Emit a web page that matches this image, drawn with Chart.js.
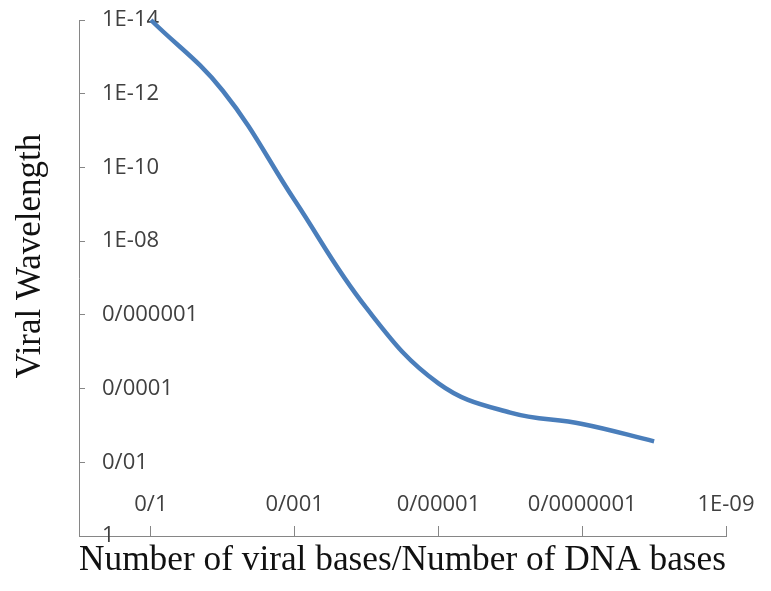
<!DOCTYPE html>
<html lang="en">
<head>
<meta charset="UTF-8">
<title>Viral Wavelength</title>
<script src="https://cdn.jsdelivr.net/npm/chart.js@4.4.0/dist/chart.umd.min.js"></script>
<style>
  body { margin: 0; background: #fff; }
</style>
</head>
<body>
<canvas id="viralChart" width="771" height="591"></canvas>
<script>
// ratio of viral bases to DNA bases (x) and wavelength (y)
const baseRatio = [1e-1, 1e-2, 1e-3, 1e-4, 1e-5, 1e-6, 1e-7, 1e-8];
const wavelength = [1e-14, 8.3e-13, 7.8e-10, 6.6e-7, 7.2e-5, 4.5e-4, 9.1e-4, 2.7e-3];

const xTickValues = [1e-1, 1e-3, 1e-5, 1e-7, 1e-9];
const xTickLabels = ['0/1', '0/001', '0/00001', '0/0000001', '1E-09'];
const yTickValues = [1e-14, 1e-12, 1e-10, 1e-8, 1e-6, 1e-4, 1e-2, 1];
const yTickLabels = ['1E-14', '1E-12', '1E-10', '1E-08', '0/000001', '0/0001', '0/01', '1'];

const axisGrey = '#868686';
const labelFont = { family: '"Open Sans"', size: 22 };

function labelFor(values, labels, value) {
    const i = values.findIndex(v => Math.abs(Math.log10(v) - Math.log10(value)) < 1e-6);
    return i >= 0 ? labels[i] : '';
}

new Chart(document.getElementById('viralChart'), {
    type: 'line',
    data: {
        datasets: [{
            data: baseRatio.map((x, i) => ({ x: x, y: wavelength[i] })),
            borderColor: '#4A7EBB',
            borderWidth: 4.5,
            pointRadius: 0,
            tension: 0.4,
            fill: false,
            clip: false
        }]
    },
    options: {
        responsive: false,
        animation: false,
        layout: { padding: { top: 20, right: 45, left: 0, bottom: 0 } },
        plugins: { legend: { display: false }, tooltip: { enabled: false } },
        scales: {
            x: {
                type: 'logarithmic',
                position: 'bottom',
                reverse: true,
                min: 1e-9,
                max: 1,
                afterBuildTicks: scale => { scale.ticks = xTickValues.map(v => ({ value: v })); },
                afterFit: scale => {
                    scale.height = 55;
                    scale.paddingLeft = 0;
                    scale.paddingRight = 0;
                },
                grid: { drawOnChartArea: false, tickLength: -10, color: axisGrey },
                border: { color: axisGrey, width: 1 },
                ticks: {
                    mirror: true,
                    padding: 18,
                    autoSkip: false,
                    maxRotation: 0,
                    color: '#404040',
                    font: labelFont,
                    callback: v => labelFor(xTickValues, xTickLabels, v)
                },
                title: {
                    display: true,
                    text: 'Number of viral bases/Number of DNA bases',
                    color: '#111111',
                    font: { family: '"Liberation Serif"', size: 36 },
                    padding: { top: 0, bottom: 9 }
                }
            },
            y: {
                type: 'logarithmic',
                position: 'left',
                reverse: true,
                min: 1e-14,
                max: 1,
                afterBuildTicks: scale => { scale.ticks = yTickValues.map(v => ({ value: v })); },
                afterFit: scale => {
                    scale.width = 79;
                    scale.paddingTop = 0;
                    scale.paddingBottom = 0;
                },
                grid: { drawOnChartArea: false, tickLength: -6, color: axisGrey },
                border: { color: axisGrey, width: 1 },
                ticks: {
                    mirror: true,
                    padding: 23,
                    autoSkip: false,
                    color: '#404040',
                    font: labelFont,
                    callback: v => labelFor(yTickValues, yTickLabels, v)
                },
                title: {
                    display: true,
                    // leading spaces nudge the centred title upwards like the original
                    text: '     Viral Wavelength',
                    color: '#111111',
                    font: { family: '"Liberation Serif"', size: 35 },
                    padding: { top: 10, bottom: 0 }
                }
            }
        }
    }
});
</script>
</body>
</html>
